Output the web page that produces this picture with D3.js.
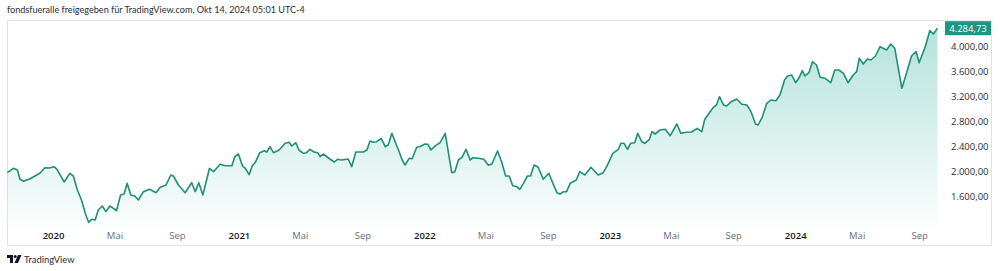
<!DOCTYPE html>
<html>
<head>
<meta charset="utf-8">
<script src="https://cdn.jsdelivr.net/npm/d3@7"></script>
<style>
  html, body { margin: 0; padding: 0; background: #fff; }
  svg { display: block; font-family: "Open Sans", "Noto Sans", sans-serif; }
</style>
</head>
<body>
<script>
// weekly closes
const dates = [
  '2019-10-03','2019-10-15','2019-10-23','2019-10-28','2019-11-04','2019-11-17','2019-12-06','2019-12-16','2019-12-25',
  '2020-01-03','2020-01-09','2020-01-23','2020-02-03','2020-02-10','2020-02-18','2020-02-26','2020-03-05','2020-03-11',
  '2020-03-17','2020-03-24','2020-03-30','2020-04-07','2020-04-14','2020-04-22','2020-04-29','2020-05-05','2020-05-13',
  '2020-05-20','2020-05-26','2020-06-02','2020-06-10','2020-06-17','2020-06-27','2020-07-09','2020-07-22','2020-07-30',
  '2020-08-10','2020-08-20','2020-08-25','2020-09-04','2020-09-17','2020-09-30','2020-10-07','2020-10-14','2020-10-22',
  '2020-11-04','2020-11-12','2020-11-25','2020-12-05','2020-12-18','2020-12-24','2020-12-31',
  '2021-01-08','2021-01-14','2021-01-21','2021-01-27','2021-02-03','2021-02-11','2021-02-20','2021-02-25','2021-03-03',
  '2021-03-10','2021-03-21','2021-04-02','2021-04-10','2021-04-15','2021-04-23','2021-04-29','2021-05-08','2021-05-14',
  '2021-05-21','2021-05-29','2021-06-05','2021-06-10','2021-06-16','2021-06-29','2021-07-08','2021-07-14','2021-07-22',
  '2021-08-04','2021-08-11','2021-08-19','2021-09-03','2021-09-10','2021-09-16','2021-09-22','2021-09-29','2021-10-08',
  '2021-10-16','2021-10-22','2021-10-29','2021-11-11','2021-11-19','2021-11-24','2021-12-02','2021-12-08','2021-12-17',
  '2021-12-23',
  '2022-01-02','2022-01-08','2022-01-14','2022-01-23','2022-02-01','2022-02-11','2022-02-24','2022-03-02','2022-03-09',
  '2022-03-16','2022-03-24','2022-04-01','2022-04-07','2022-04-17','2022-04-28','2022-05-07','2022-05-14','2022-05-25',
  '2022-06-02','2022-06-10','2022-06-17','2022-06-24','2022-07-02','2022-07-08','2022-07-15','2022-07-23','2022-07-29',
  '2022-08-05','2022-08-13','2022-08-23','2022-09-03','2022-09-11','2022-09-19','2022-09-25','2022-10-02','2022-10-08',
  '2022-10-15','2022-10-27','2022-11-03','2022-11-13','2022-11-25','2022-12-09','2022-12-19','2022-12-26',
  '2023-01-07','2023-01-18','2023-01-23','2023-01-29','2023-02-05','2023-02-11','2023-02-19','2023-02-25','2023-03-05',
  '2023-03-11','2023-03-20','2023-03-25','2023-03-31','2023-04-10','2023-04-20','2023-04-30','2023-05-13','2023-05-21',
  '2023-06-01','2023-06-11','2023-06-22','2023-07-01','2023-07-07','2023-07-13','2023-07-24','2023-07-30','2023-08-05',
  '2023-08-13','2023-08-19','2023-08-28','2023-09-08','2023-09-18','2023-09-28','2023-10-06','2023-10-15','2023-10-20',
  '2023-10-28','2023-11-06','2023-11-14','2023-11-24','2023-12-02','2023-12-11','2023-12-17','2023-12-25',
  '2024-01-02','2024-01-09','2024-01-15','2024-01-20','2024-01-28','2024-02-04','2024-02-12','2024-02-19','2024-02-29',
  '2024-03-11','2024-03-19','2024-03-27','2024-04-05','2024-04-14','2024-04-24','2024-05-01','2024-05-06','2024-05-14',
  '2024-05-22','2024-05-29','2024-06-07','2024-06-16','2024-06-29','2024-07-07','2024-07-15','2024-07-29','2024-08-07',
  '2024-08-17','2024-08-26','2024-09-01','2024-09-13','2024-09-22','2024-09-29','2024-10-07'
]
const values = [
  1973, 2043, 2016, 1867, 1835, 1877, 1963, 2053, 2048,
  2069, 2027, 1824, 1963, 1920, 1696, 1536, 1312, 1179,
  1227, 1216, 1376, 1440, 1349, 1440, 1403, 1365, 1616,
  1632, 1803, 1616, 1600, 1536, 1669, 1707, 1653, 1739,
  1771, 1936, 1920, 1776, 1653, 1813, 1669, 1813, 1616,
  2043, 1989, 2107, 2085, 2085, 2229, 2272,
  2080, 2037, 1941, 2080, 2149, 2293, 2325, 2304, 2389,
  2293, 2336, 2443, 2459, 2400, 2453, 2336, 2283, 2293,
  2347, 2304, 2293, 2229, 2272, 2192, 2144, 2187, 2176,
  2192, 2069, 2304, 2304, 2336, 2480, 2459, 2469, 2523,
  2389, 2416, 2603, 2336, 2165, 2096, 2203, 2197, 2379,
  2389,
  2432, 2427, 2336, 2405, 2453, 2603, 1973, 1989, 2176,
  2219, 2347, 2176, 2213, 2203, 2187, 2091, 2112, 2320,
  2149, 1920, 1920, 1765, 1749, 1707, 1803, 1920, 1920,
  2096, 2059, 1867, 1963, 1803, 1653, 1632, 1669, 1669,
  1803, 1856, 1989, 1936, 2059, 1936, 1973, 2069,
  2283, 2347, 2443, 2443, 2347, 2443, 2453, 2603, 2469,
  2443, 2507, 2629, 2592, 2656, 2667, 2565, 2752, 2603,
  2619, 2624, 2683, 2629, 2827, 2896, 3019, 3056, 3189,
  3056, 3040, 3109, 3152, 3067, 3056, 2949, 2752, 2736,
  2859, 3083, 3136, 3125, 3216, 3456, 3520, 3536,
  3413, 3499, 3605, 3520, 3573, 3749, 3696, 3499, 3483,
  3413, 3616, 3616, 3563, 3413, 3536, 3589, 3803, 3712,
  3792, 3776, 3840, 3989, 3936, 4032, 3963, 3323, 3563,
  3840, 3909, 3733, 3989, 4245, 4192, 4284.73
]
const priceTicks = [1600, 2000, 2400, 2800, 3200, 3600, 4000]
const timeTicks = ['2020-01-01','2020-05-01','2020-09-01','2021-01-01','2021-05-01','2021-09-01',
  '2022-01-01','2022-05-01','2022-09-01','2023-01-01','2023-05-01','2023-09-01',
  '2024-01-01','2024-05-01','2024-09-01']
const monthNames = ['Jan','Feb','Mär','Apr','Mai','Jun','Jul','Aug','Sep','Okt','Nov','Dez']
const title = 'fondsfueralle freigegeben für TradingView.com, Okt 14, 2024 05:01 UTC-4'

let width = 1000
let height = 271
let paneBottom = 227
let lineColor = '#1f8f78'

let parse = d3.timeParse('%Y-%m-%d')
let data = dates.map((d, i) => ({ date: parse(d), value: values[i] }))
let last = data[data.length - 1]

let de = d3.formatLocale({ decimal: ',', thousands: '.', grouping: [3], currency: ['', ' €'] })
let fmt = de.format(',.2f')

let svg = d3.select('body').append('svg')
  .attr('width', width)
  .attr('height', height)

//scales
let xScale = d3.scaleTime()
  .domain([parse('2020-01-01'), parse('2024-01-01')])
  .range([53, 795.2])
let yScale = d3.scaleLinear()
  .domain([1600, 4000])
  .range([196, 46])

// title
svg.append('text')
  .attr('x', 7)
  .attr('y', 12.5)
  .attr('font-size', 9.1)
  .attr('font-family', 'Lato, sans-serif')
  .attr('fill', '#2a2e39')
  .text(title)

// frame
svg.append('rect')
  .attr('x', 7.5)
  .attr('y', 20.5)
  .attr('width', 984)
  .attr('height', 225)
  .attr('fill', '#fff')
  .attr('stroke', '#e0e3eb')

// gradient
let defs = svg.append('defs')
let grad = defs.append('linearGradient')
  .attr('id', 'fill')
  .attr('gradientUnits', 'userSpaceOnUse')
  .attr('x1', 0).attr('x2', 0)
  .attr('y1', yScale(last.value)).attr('y2', paneBottom)
grad.append('stop').attr('offset', 0).attr('stop-color', '#22ab94').attr('stop-opacity', 0.34)
grad.append('stop').attr('offset', 1).attr('stop-color', '#22ab94').attr('stop-opacity', 0.02)

let area = d3.area()
  .x(d => xScale(d.date))
  .y0(paneBottom)
  .y1(d => yScale(d.value))

let line = d3.line()
  .x(d => xScale(d.date))
  .y(d => yScale(d.value))

svg.append('path')
  .datum(data)
  .attr('d', area)
  .attr('fill', 'url(#fill)')

svg.append('path')
  .datum(data)
  .attr('d', line)
  .attr('fill', 'none')
  .attr('stroke', lineColor)
  .attr('stroke-width', 1.6)
  .attr('stroke-linejoin', 'round')

// time axis
let xAxis = d3.axisBottom(xScale)
  .tickValues(timeTicks.map(parse))
  .tickSize(0)
  .tickPadding(5)
  .tickFormat(d => d.getMonth() === 0 ? d.getFullYear() : monthNames[d.getMonth()])

let gx = svg.append('g')
  .attr('transform', `translate(0,${paneBottom})`)
  .call(xAxis)
gx.select('.domain').remove()
gx.selectAll('text')
  .attr('font-size', 9.5)
  .attr('font-family', '"Open Sans", sans-serif')
  .attr('fill', d => d.getMonth() === 0 ? '#131722' : '#6a6d78')
  .attr('font-weight', d => d.getMonth() === 0 ? 600 : 400)

// price axis
let yAxis = d3.axisRight(yScale)
  .tickValues(priceTicks)
  .tickSize(0)
  .tickPadding(5)
  .tickFormat(fmt)

let gy = svg.append('g')
  .attr('transform', 'translate(946,0)')
  .call(yAxis)
gy.select('.domain').remove()
gy.selectAll('text')
  .attr('font-size', 9.5)
  .attr('font-family', '"Open Sans", sans-serif')
  .attr('fill', '#2a2e39')

// last value label
let ly = yScale(last.value)
svg.append('rect')
  .attr('x', 945)
  .attr('y', ly - 7)
  .attr('width', 46)
  .attr('height', 14)
  .attr('fill', '#1f9680')
svg.append('text')
  .attr('x', 968)
  .attr('y', ly + 3.5)
  .attr('text-anchor', 'middle')
  .attr('font-size', 9.5)
  .attr('fill', '#fff')
  .text(fmt(last.value))

// logo
let logo = svg.append('g').attr('transform', 'translate(7,255)')
logo.append('path')
  .attr('d', 'M0 0 H6 V8 H3 V3 H0 Z')
  .attr('fill', '#131722')
logo.append('circle')
  .attr('cx', 8.2).attr('cy', 1.5).attr('r', 1.5)
  .attr('fill', '#131722')
logo.append('path')
  .attr('d', 'M11 0 H14.5 L11 8 H7.5 Z')
  .attr('fill', '#131722')
svg.append('text')
  .attr('x', 24)
  .attr('y', 262.5)
  .attr('font-size', 9.4)
  .attr('font-family', 'Lato, sans-serif')
  .attr('fill', '#2a2e39')
  .text('TradingView')
</script>
</body>
</html>
